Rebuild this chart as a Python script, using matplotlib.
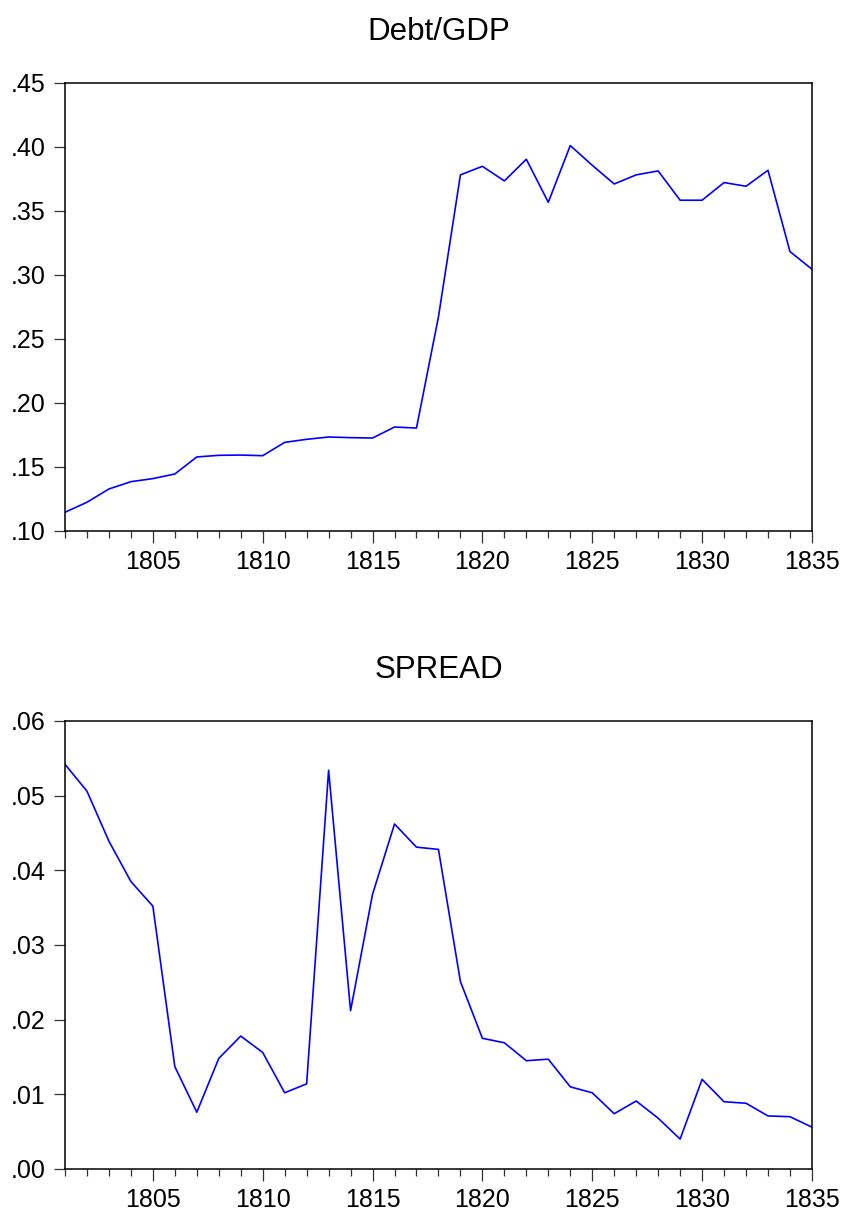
import numpy as np
import matplotlib
matplotlib.use("Agg")
import matplotlib.pyplot as plt
from matplotlib.ticker import FuncFormatter, MultipleLocator

plt.rcParams['font.family'] = ['Liberation Sans', 'DejaVu Sans']

# Years of the sample
years = np.arange(1801, 1836)

# Debt/GDP ratio
debt_gdp = [0.1146, 0.1224, 0.1328, 0.1385, 0.1409, 0.1445, 0.1578, 0.1591,
            0.1593, 0.1588, 0.1692, 0.1716, 0.1734, 0.1729, 0.1726, 0.1812,
            0.1804, 0.2673, 0.3782, 0.3849, 0.3735, 0.3904, 0.3568, 0.4011,
            0.3857, 0.3711, 0.3782, 0.3813, 0.3584, 0.3584, 0.3722, 0.3693,
            0.3818, 0.3183, 0.3045]

# Spread
spread = [0.0542, 0.0506, 0.0439, 0.0385, 0.0352, 0.0137, 0.0076, 0.0148,
          0.0178, 0.0156, 0.0102, 0.0114, 0.0534, 0.0212, 0.0368, 0.0462,
          0.0431, 0.0428, 0.0251, 0.0175, 0.0169, 0.0145, 0.0147, 0.0110,
          0.0102, 0.0074, 0.0091, 0.0068, 0.0040, 0.0120, 0.0090, 0.0088,
          0.0071, 0.0070, 0.0056]

major_years = [1805, 1810, 1815, 1820, 1825, 1830, 1835]


def fmt_dec(v, pos):
    s = "%.2f" % v
    return s[1:] if s.startswith("0") else s


def style_axis(ax, title, ylim, ystep):
    ax.set_xlim(1801, 1835)
    ax.set_ylim(*ylim)
    ax.yaxis.set_major_locator(MultipleLocator(ystep))
    ax.yaxis.set_major_formatter(FuncFormatter(fmt_dec))
    ax.set_xticks(major_years)
    ax.set_xticks(years, minor=True)
    ax.tick_params(axis='y', direction='out', length=8, width=0.9, pad=6,
                   labelsize=18, color='#333333')
    ax.tick_params(axis='x', which='major', direction='out', length=8.5,
                   width=0.9, pad=5, labelsize=18, color='#333333')
    ax.tick_params(axis='x', which='minor', direction='out', length=5,
                   width=0.9, color='#333333')
    for sp in ax.spines.values():
        sp.set_linewidth(1.1)
        sp.set_color('black')
    ax.set_title(title, fontsize=22.5, pad=31)


fig = plt.figure(figsize=(8.44, 12.15), dpi=100)
ax1 = fig.add_axes([0.077, 0.563, 0.885, 0.3687])
ax2 = fig.add_axes([0.077, 0.0379, 0.885, 0.3687])

ax1.plot(years, debt_gdp, color='#0000ff', linewidth=1.2)
style_axis(ax1, "Debt/GDP", (0.10, 0.45), 0.05)

ax2.plot(years, spread, color='#0000ff', linewidth=1.2)
style_axis(ax2, "SPREAD", (0.0, 0.06), 0.01)

fig.savefig("out.png", dpi=100)
